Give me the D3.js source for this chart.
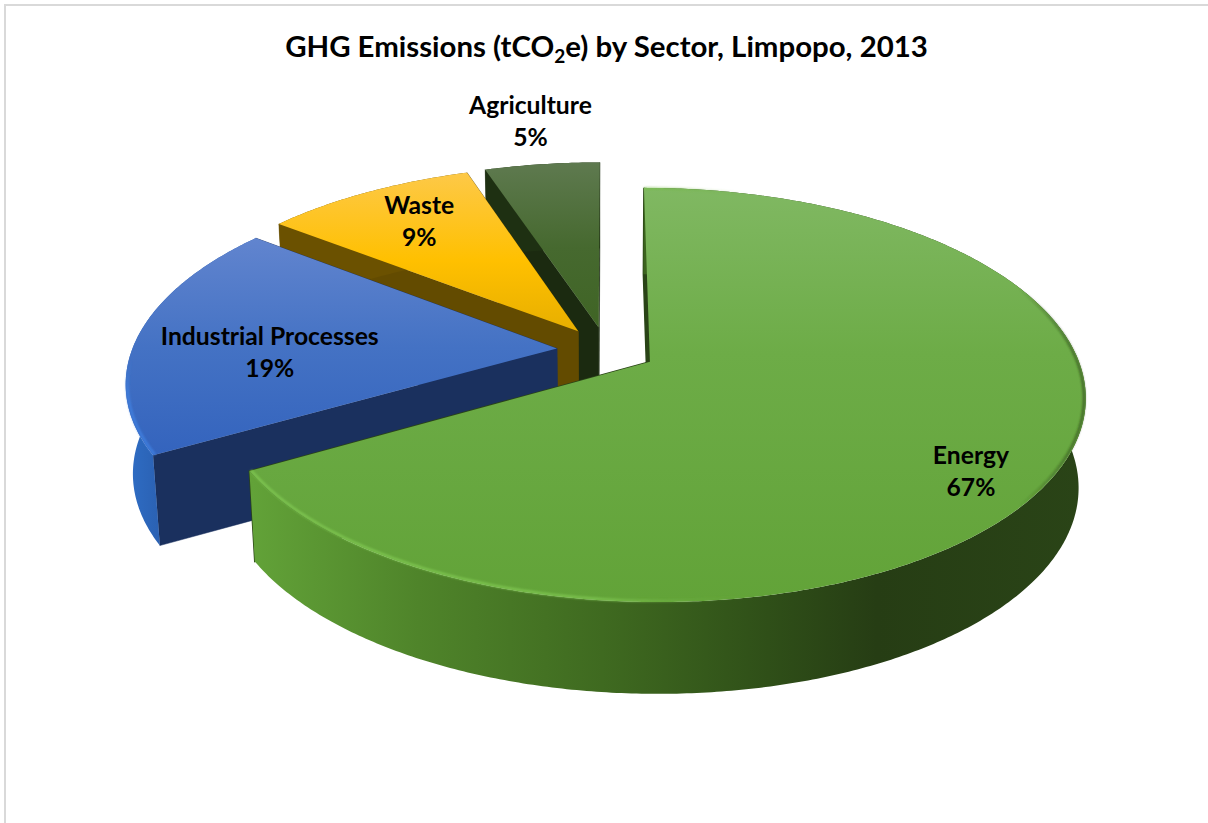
<!DOCTYPE html>
<html><head><meta charset="utf-8">
<style>html,body{margin:0;padding:0;background:#fff}svg{display:block}text{font-family:Lato,"Open Sans",sans-serif;font-weight:700;fill:#000}</style>
<script src="https://cdn.jsdelivr.net/npm/d3@7/dist/d3.min.js"></script>
</head><body><svg id="c" width="1208" height="823"></svg>
<script>
const sectors = ["Energy","Industrial Processes","Waste","Agriculture"];
const shares = [66.7,18.8,9.4,5.1];
const labelPercents = ["67%","19%","9%","5%"];
const labelRadius = [0.958,0.79,0.885,1.45];
const labelAngleDeg = [125,270,326.4,351.4];
const topStops = [
 [["#80b862",0],["#6dac47",.4],["#62a338",1]],
 [["#6285cf",0],["#4472c4",.5],["#3363bd",1]],
 [["#fdc94a",0],["#ffc000",.55],["#e6ae00",1]],
 [["#5f7a50",0],["#46692f",.5],["#3f6424",1]]];
const wallStops = [
 [["#62a238",0],["#4f842a",.2],["#3f6a20",.42],["#2f4f18",.62],["#263d14",.75],["#2a4417",1]],
 [["#2f6ec6",0],["#2a5fb0",1]],
 [["#6b5100",0],["#6b5100",1]],
 [["#1e3012",0],["#1e3012",1]]];
const faceColors = ["#2a4417","#1a305e","#634b00","#1b2a10"];

const K=0.159, EXPLODE=0.117, DEPTH=89, SHRINK=0.015;
const sx=d3.scaleLinear().domain([-1,1]).range([606.5-425,606.5+425]);
const sy=d3.scaleLinear().domain([-1,1]).range([350-198,350+198]);
const svg=d3.select("#c");
const defs=svg.append("defs");
defs.append("filter").attr("id","soft").attr("x","-5%").attr("y","-5%").attr("width","110%").attr("height","110%")
  .append("feGaussianBlur").attr("stdDeviation",0.9);
const grad=(id,stops,x1,y1,x2,y2)=>{const g=defs.append("linearGradient").attr("id",id)
  .attr("gradientUnits","userSpaceOnUse").attr("x1",x1).attr("y1",y1).attr("x2",x2).attr("y2",y2);
  stops.forEach(s=>g.append("stop").attr("offset",s[1]).attr("stop-color",s[0]).attr("stop-opacity",s[2]===undefined?1:s[2]));};

// border
svg.append("path").attr("d","M5,823V5H1208").attr("fill","none").attr("stroke","#d9d9d9").attr("stroke-width",2);

function project(u,v,z){
  const w=1-K*v; const x=sx(u/w), y=sy(v/w)+z*DEPTH*(1+0.03*v);
  return [sx(0)+(x-sx(0))*(1-z*SHRINK), y];
}
const pie=d3.pie().sort(null).startAngle(0).endAngle(2*Math.PI);
const arcs=pie(shares);
const line=d3.line();
function rimAngles(a0,a1){const n=Math.max(8,Math.ceil((a1-a0)/0.01));return d3.range(n+1).map(i=>a0+(a1-a0)*i/n);}

arcs.forEach((d,i)=>{ d.mid=(d.startAngle+d.endAngle)/2; d.ou=EXPLODE*Math.sin(d.mid); d.ov=-EXPLODE*Math.cos(d.mid); d.i=i; });
const pt=(d,r,a,z)=>project(d.ou+r*Math.sin(a),d.ov-r*Math.cos(a),z);

const tops=[[188,602],[235,460],[170,335],[160,335]];
const wallX=[[252,1085],[125,165],[280,470],[488,600]];
sectors.forEach((s,i)=>{
  grad("top"+i,topStops[i],0,tops[i][0],0,tops[i][1]);
  grad("wall"+i,wallStops[i],wallX[i][0],0,wallX[i][1],0);
});
grad("rim0",[["#7fc651",0,1],["#7fc651",.42,.9],["#6aa83f",.6,0],["#233a12",.92,0],["#2a4417",.98,.6],["#2a4417",1,.7]],252,0,1085,0);
grad("rim1",[["#3f80e0",0,0],["#3f80e0",.4,1],["#3f80e0",1,1]],0,360,0,440);

const order=[3,2,1,0];
const g=svg.append("g");
order.forEach(i=>{
  const d=arcs[i], as=rimAngles(d.startAngle,d.endAngle);
  const face=(a)=>[pt(d,0,a,0),pt(d,1,a,0),pt(d,1,a,1),pt(d,0,a,1)];
  g.append("path").attr("d",line(face(d.endAngle))+"Z").attr("fill",faceColors[i]).attr("stroke",faceColors[i]).attr("stroke-width",i==0?1.5:.5);
  g.append("path").attr("d",line(face(d.startAngle))+"Z").attr("fill",faceColors[i]).attr("stroke",faceColors[i]).attr("stroke-width",i==0?1.5:.5);
  const wall=as.map(a=>pt(d,1,a,0)).concat(as.slice().reverse().map(a=>pt(d,1,a,1)));
  g.append("path").attr("d",line(wall)+"Z").attr("fill","url(#wall"+i+")");
  const top=[pt(d,0,0,0)].concat(as.map(a=>pt(d,1,a,0)));
  g.append("path").attr("d",line(top)+"Z").attr("fill","url(#top"+i+")");
  if(i<2){
    g.append("path").attr("d",line(as.map(a=>pt(d,0.996,a,0)))).attr("fill","none")
     .attr("stroke","url(#rim"+i+")").attr("stroke-width",2.4).attr("filter","url(#soft)");
  }
});

// title
const title=svg.append("text").attr("x",606.5).attr("y",57).attr("text-anchor","middle").attr("font-size",29.4);
title.append("tspan").text("GHG Emissions (tCO");
title.append("tspan").attr("font-size",19).attr("dy",6).text("2");
title.append("tspan").attr("dy",-6).text("e) by Sector, Limpopo, 2013");

// labels
arcs.forEach((d,i)=>{
  const a=labelAngleDeg[i]*Math.PI/180, r=labelRadius[i];
  const p=project(r*Math.sin(a),-r*Math.cos(a),0);
  const t=svg.append("text").attr("text-anchor","middle").attr("font-size",24.7);
  t.append("tspan").attr("x",p[0]-1).attr("y",p[1]-5).text(sectors[i]);
  t.append("tspan").attr("x",p[0]-1).attr("y",p[1]+27).text(labelPercents[i]);
});
</script></body></html>
